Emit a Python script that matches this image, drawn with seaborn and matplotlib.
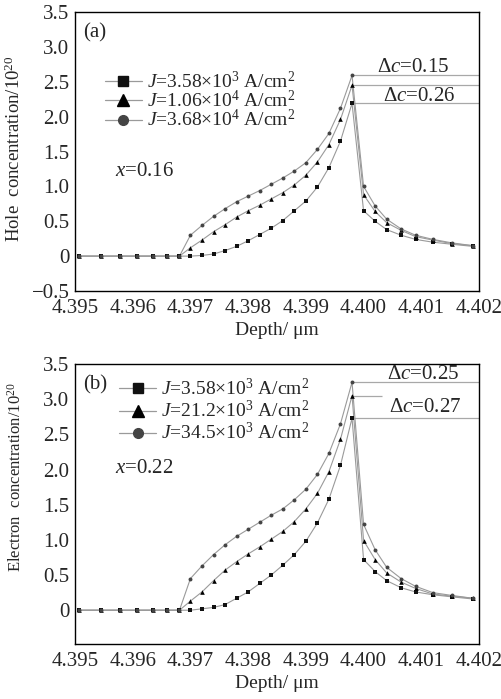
import numpy as np
import pandas as pd
import matplotlib
matplotlib.use("Agg")
import matplotlib.pyplot as plt
from matplotlib.lines import Line2D
import seaborn as sns

# depth grid (um), shared by all curves
depth = [4.39507, 4.39545, 4.39578, 4.39608, 4.39635, 4.39659, 4.39681,
         4.3970, 4.3972, 4.3974, 4.3976, 4.3978, 4.3980, 4.3982, 4.3984,
         4.3986, 4.3988, 4.3990, 4.3992, 4.3994, 4.3996, 4.3998,
         4.4000, 4.4002, 4.4004, 4.40065, 4.4009, 4.4012, 4.40153, 4.40189]

# (a) hole concentration /1e20
a_sq = [0, 0, 0, 0, 0, 0, 0,
        0.0, 0.01, 0.03, 0.08, 0.14, 0.22, 0.31, 0.40, 0.51, 0.65, 0.79, 0.99, 1.27, 1.65, 2.19,
        0.65, 0.50, 0.38, 0.30, 0.24, 0.20, 0.17, 0.14]
a_tri = [0, 0, 0, 0, 0, 0, 0,
         0.12, 0.23, 0.35, 0.45, 0.56, 0.65, 0.73, 0.82, 0.91, 1.02, 1.16, 1.35, 1.60, 1.96, 2.45,
         0.88, 0.64, 0.48, 0.37, 0.28, 0.23, 0.18, 0.15]
a_cir = [0, 0, 0, 0, 0, 0, 0,
         0.30, 0.44, 0.57, 0.68, 0.78, 0.86, 0.94, 1.03, 1.12, 1.22, 1.34, 1.53, 1.76, 2.12, 2.59,
         1.00, 0.72, 0.53, 0.39, 0.30, 0.24, 0.19, 0.15]
a_labels = [r"$J$=3.58×10$^3$ A/cm$^2$", r"$J$=1.06×10$^4$ A/cm$^2$", r"$J$=3.68×10$^4$ A/cm$^2$"]

# (b) electron concentration /1e20
b_sq = [0, 0, 0, 0, 0, 0, 0,
        0.0, 0.02, 0.04, 0.08, 0.17, 0.26, 0.38, 0.50, 0.64, 0.79, 0.98, 1.24, 1.58, 2.06, 2.73,
        0.72, 0.55, 0.42, 0.32, 0.26, 0.22, 0.19, 0.16]
b_tri = [0, 0, 0, 0, 0, 0, 0,
         0.13, 0.26, 0.42, 0.57, 0.69, 0.80, 0.90, 1.01, 1.12, 1.26, 1.44, 1.66, 1.97, 2.43, 3.05,
         0.99, 0.72, 0.53, 0.40, 0.31, 0.23, 0.20, 0.17]
b_cir = [0, 0, 0, 0, 0, 0, 0,
         0.45, 0.63, 0.79, 0.93, 1.05, 1.15, 1.25, 1.35, 1.44, 1.57, 1.72, 1.93, 2.23, 2.65, 3.24,
         1.22, 0.86, 0.61, 0.45, 0.34, 0.25, 0.21, 0.17]
b_labels = [r"$J$=3.58×10$^3$ A/cm$^2$", r"$J$=21.2×10$^3$ A/cm$^2$", r"$J$=34.5×10$^3$ A/cm$^2$"]

xticks = [4.395, 4.396, 4.397, 4.398, 4.399, 4.400, 4.401, 4.402]

sns.set_style("white")
plt.rcParams["font.family"] = ["Liberation Serif", "DejaVu Serif"]
plt.rcParams["mathtext.fontset"] = "custom"
plt.rcParams["mathtext.rm"] = "Liberation Serif"
plt.rcParams["mathtext.it"] = "Liberation Serif:italic"

markers = {"sq": "s", "tri": "^", "cir": "o"}
mcol = {"sq": "#111111", "tri": "#000000", "cir": "#444444"}
msize = {"sq": 7, "tri": 11, "cir": 8}
LINE = "#9a9a9a"


def panel(ax, series, labels, ylabel, ylsize, tag, xnote, dcs, short_mid, ylim, yticks, leg_anchor, leg_space):
    df = pd.concat([pd.DataFrame({"depth": depth, "conc": v, "s": k}) for k, v in series.items()])
    sns.lineplot(data=df, x="depth", y="conc", units="s", estimator=None,
                 color=LINE, lw=0.8, ax=ax, zorder=2)
    for k in series:
        sub = df[df.s == k]
        sns.scatterplot(x=sub.depth, y=sub.conc, marker=markers[k], color=mcol[k],
                        s=msize[k], linewidth=0, ax=ax, zorder=3)

    # peak reference lines
    xmax = xticks[-1]
    for k, v in series.items():
        pk = int(np.argmax(v))
        end = 4.40032 if (short_mid and k == "tri") else xmax
        ax.hlines(v[pk], depth[pk], end, color="#a8a8a8", lw=0.9, zorder=1)
    for (tx, ty, s) in dcs:
        ax.text(tx, ty, s, ha="center", va="center", fontsize=15)

    ax.set_xlim(4.395, 4.402)
    ax.set_ylim(*ylim)
    ax.set_xticks(xticks)
    ax.set_xticklabels([f"{t:.3f}" for t in xticks], fontsize=15)
    ax.set_yticks(yticks)
    ax.set_yticklabels([("0" if t == 0 else f"{t:.1f}".replace("-", "\u2212")) for t in yticks], fontsize=15)
    ax.tick_params(axis="x", direction="in", length=7, width=0.8, pad=6)
    ax.tick_params(axis="y", direction="out", length=3, width=0.8, pad=1)
    for sp in ax.spines.values():
        sp.set_linewidth(1.0)
        sp.set_color("black")

    ax.set_xlabel("Depth/ \u03bcm", fontsize=14)
    ax.xaxis.set_label_coords(0.5, -0.112)
    ax.set_ylabel(ylabel, fontsize=ylsize)

    ax.text(0.02, 0.925, tag, transform=ax.transAxes, fontsize=15, ha="left", va="center")
    ax.text(0.099, xnote[1], xnote[0], transform=ax.transAxes, fontsize=15, ha="left", va="center")

    handles = [Line2D([], [], color=LINE, lw=0.9, marker=markers[k], markersize=7 if k != "tri" else 8,
                      markerfacecolor=mcol[k], markeredgecolor=mcol[k]) for k in series]
    ax.legend(handles, labels, loc="upper left", bbox_to_anchor=leg_anchor, frameon=False,
              fontsize=14, handlelength=1.9, handletextpad=0.25, labelspacing=leg_space,
              borderpad=0, borderaxespad=0)


fig = plt.figure(figsize=(5.01, 6.99), dpi=100)
ax1 = fig.add_axes([0.1497, 0.5837, 0.8064, 0.3991])
ax2 = fig.add_axes([0.1497, 0.0787, 0.8064, 0.4006])

panel(ax1, {"sq": a_sq, "tri": a_tri, "cir": a_cir}, a_labels,
      "Hole  concentration/10$^{20}$", 13.5, "(a)", ("$x$=0.16", 0.427),
      [(4.40085, 2.70, "Δ$c$=0.15"), (4.40097, 2.29, "Δ$c$=0.26")], False,
      (-0.5, 3.5), [-0.5, 0, 0.5, 1.0, 1.5, 2.0, 2.5, 3.0, 3.5], (0.074, 0.79), -0.1)
ax1.yaxis.set_label_coords(-0.125, 0.51)

panel(ax2, {"sq": b_sq, "tri": b_tri, "cir": b_cir}, b_labels,
      "Electron  concentration/10$^{20}$", 12, "(b)", ("$x$=0.22", 0.625),
      [(4.40103, 3.344, "Δ$c$=0.25"), (4.40106, 2.879, "Δ$c$=0.27")], True,
      (-0.48, 3.5), [0, 0.5, 1.0, 1.5, 2.0, 2.5, 3.0, 3.5], (0.109, 0.95), 0.05)
ax2.yaxis.set_label_coords(-0.125, 0.596)

fig.savefig("out.png", dpi=100)
